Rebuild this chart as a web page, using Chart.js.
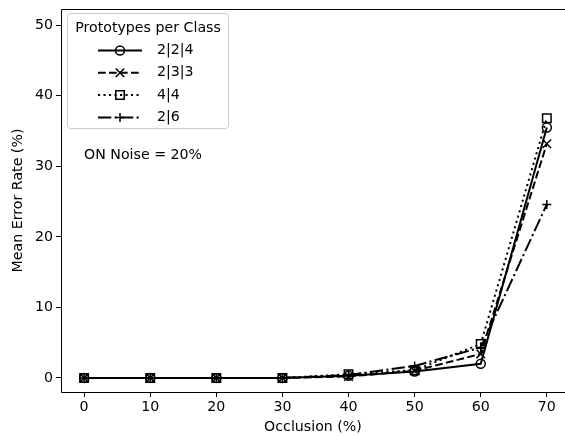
<!DOCTYPE html>
<html lang="en">
<head>
  <meta charset="UTF-8">
  <title>Mean Error Rate vs Occlusion</title>
  <script src="https://cdn.jsdelivr.net/npm/chart.js"></script>
  <style>
    html, body { margin: 0; padding: 0; background: #fff; overflow: hidden; }
    canvas { display: block; }
  </style>
</head>
<body>
  <canvas id="myChart" width="565" height="436"></canvas>

  <script>
    const occlusion = [0, 10, 20, 30, 40, 50, 60, 70];
    const err224 = [0, 0, 0, 0, 0.3, 0.9, 2.0, 35.5];
    const err233 = [0, 0, 0, 0, 0.2, 1.0, 3.4, 33.2];
    const err44 = [0, 0, 0, 0, 0.5, 1.1, 4.8, 36.8];
    const err26 = [0, 0, 0, 0, 0.4, 1.7, 4.3, 24.6];
    const labels = ['2|2|4', '2|3|3', '4|4', '2|6'];
    const xTicks = [0, 10, 20, 30, 40, 50, 60, 70];
    const yTicks = [0, 10, 20, 30, 40, 50];

    const FONT = {family: 'DejaVu Sans', size: 14.2};

    // line style + marker per series
    const styles = [
      {dash: [], point: 'circle', radius: 4.5},
      {dash: [7.7, 3.3], point: 'crossRot', radius: 6},
      {dash: [2.1, 3.4], point: 'rect', radius: 6},
      {dash: [13.3, 3.3, 2.1, 3.3], point: 'cross', radius: 4.5},
    ];

    const series = [err224, err233, err44, err26];

    const datasets = series.map((vals, i) => ({
      label: labels[i],
      data: vals.map((v, j) => ({x: occlusion[j], y: v})),
      borderColor: '#000',
      borderWidth: 2,
      borderDash: styles[i].dash,
      pointStyle: styles[i].point,
      pointRadius: styles[i].radius,
      pointBorderColor: '#000',
      pointBackgroundColor: 'rgba(0,0,0,0)',
      pointBorderWidth: 1.5,
      tension: 0,
      order: -i,
    }));

    // axes frame (left, top, bottom; right side runs off the canvas) and annotation
    const framePlugin = {
      id: 'frame',
      afterDraw(chart) {
        const {ctx, chartArea: a} = chart;
        ctx.save();
        ctx.strokeStyle = '#000';
        ctx.lineWidth = 1;
        ctx.beginPath();
        ctx.moveTo(chart.width, a.top + 0.5);
        ctx.lineTo(a.left + 0.5, a.top + 0.5);
        ctx.lineTo(a.left + 0.5, a.bottom + 0.5);
        ctx.lineTo(chart.width, a.bottom + 0.5);
        ctx.stroke();
        ctx.fillStyle = '#000';
        ctx.font = `${FONT.size}px ${FONT.family}`;
        ctx.textBaseline = 'middle';
        ctx.textAlign = 'left';
        ctx.fillText('ON Noise = 20%', 84, 155);
        ctx.restore();
      }
    };

    // matplotlib-style legend box with title
    const legendPlugin = {
      id: 'boxLegend',
      afterDatasetsDraw(chart) {
        const ctx = chart.ctx;
        const bx = 67.5, by = 13.5, bw = 161, bh = 115;
        ctx.save();
        ctx.beginPath();
        ctx.roundRect(bx, by, bw, bh, 3);
        ctx.fillStyle = 'rgba(255,255,255,0.8)';
        ctx.fill();
        ctx.strokeStyle = '#cccccc';
        ctx.lineWidth = 1;
        ctx.stroke();

        ctx.fillStyle = '#000';
        ctx.font = `${FONT.size}px ${FONT.family}`;
        ctx.textBaseline = 'middle';
        ctx.textAlign = 'center';
        ctx.fillText('Prototypes per Class', bx + bw / 2, 28.5);

        chart.data.datasets.forEach((ds, i) => {
          const y = 50.5 + i * 22.3;
          ctx.save();
          ctx.strokeStyle = '#000';
          ctx.lineWidth = 2;
          ctx.setLineDash(ds.borderDash);
          ctx.beginPath();
          ctx.moveTo(98, y);
          ctx.lineTo(142, y);
          ctx.stroke();
          ctx.setLineDash([]);
          ctx.lineWidth = 1.5;
          ctx.fillStyle = 'rgba(0,0,0,0)';
          Chart.helpers.drawPoint(ctx, {
            pointStyle: ds.pointStyle, radius: ds.pointRadius, rotation: 0, borderWidth: 1.5
          }, 120, y);
          ctx.restore();
          ctx.fillStyle = '#000';
          ctx.textAlign = 'left';
          ctx.fillText(ds.label, 157, y);
        });
        ctx.restore();
      }
    };

    const ctx = document.getElementById('myChart');

    new Chart(ctx, {
      type: 'line',
      data: {datasets: datasets},
      plugins: [framePlugin, legendPlugin],
      options: {
        responsive: false,
        animation: false,
        layout: {autoPadding: false, padding: {top: 9, left: 0, right: 0, bottom: 0}},
        plugins: {
          legend: {display: false},
          tooltip: {enabled: false},
        },
        scales: {
          x: {
            type: 'linear',
            min: -3.5,
            max: 72.75,
            afterBuildTicks(scale) {
              scale.ticks = xTicks.map(v => ({value: v}));
            },
            afterFit(scale) {
              scale.height = 44;
              scale.paddingLeft = 0;
              scale.paddingRight = 0;
            },
            grid: {drawOnChartArea: false, drawTicks: true, tickLength: 5, color: '#000'},
            border: {display: false},
            ticks: {color: '#000', font: FONT, padding: 2, maxRotation: 0},
            title: {display: true, text: 'Occlusion (%)', color: '#000', font: FONT, padding: {top: 1, bottom: 0}},
          },
          y: {
            min: -2,
            max: 52.3,
            afterBuildTicks(scale) {
              scale.ticks = yTicks.map(v => ({value: v}));
            },
            afterFit(scale) {
              scale.width = 61;
              scale.paddingTop = 0;
              scale.paddingBottom = 0;
            },
            grid: {drawOnChartArea: false, drawTicks: true, tickLength: 5, color: '#000'},
            border: {display: false},
            ticks: {color: '#000', font: FONT, padding: 3},
            title: {display: true, text: 'Mean Error Rate (%)', color: '#000', font: FONT, padding: {top: 10, bottom: 0}},
          }
        }
      }
    });
  </script>
</body>
</html>
